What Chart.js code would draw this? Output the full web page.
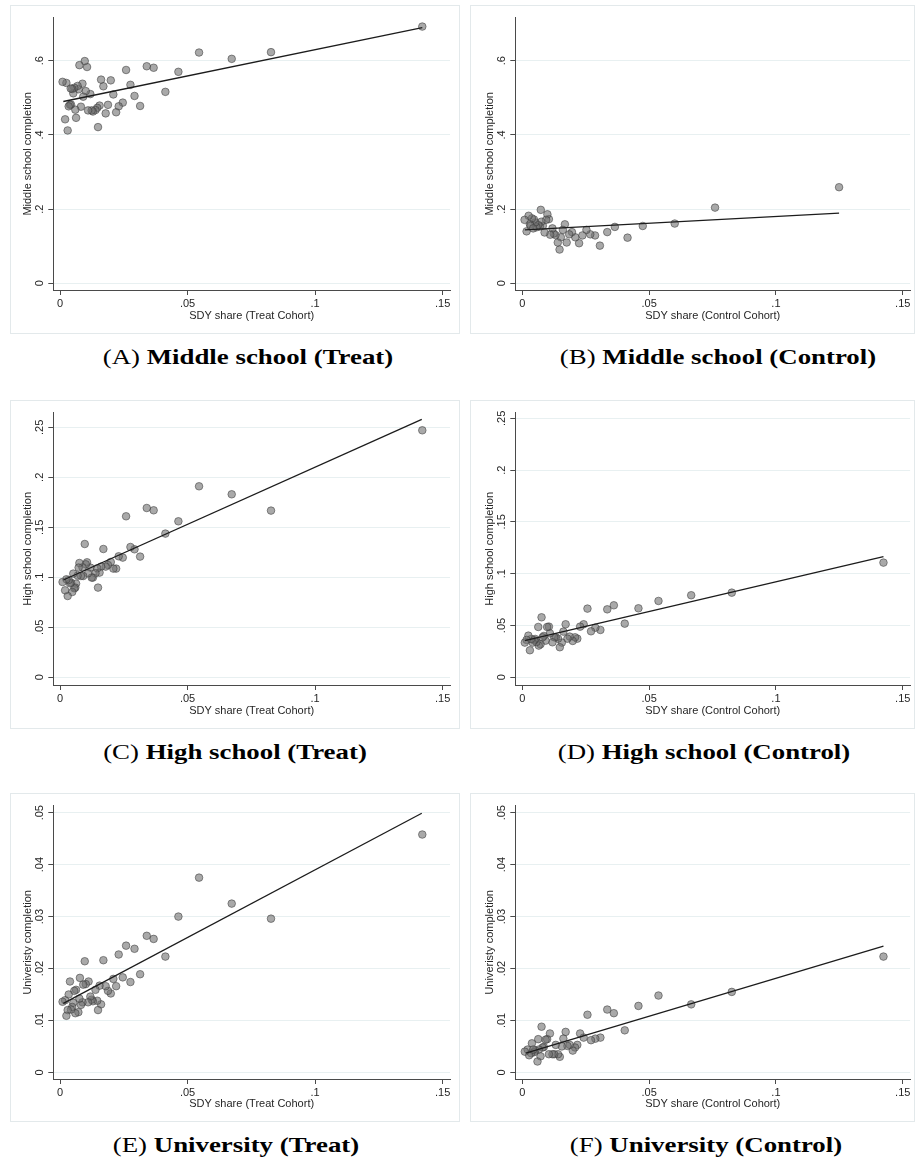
<!DOCTYPE html>
<html>
<head>
<meta charset="utf-8">
<script src="https://cdn.jsdelivr.net/npm/chart.js@4.4.1/dist/chart.umd.min.js"></script>
<style>
  html, body { margin: 0; padding: 0; background: #fff; }
  body { position: relative; width: 915px; height: 1163px; overflow: hidden; }
  .frame { position: absolute; border: 1px solid #e3e9eb; box-sizing: border-box; }
  canvas.plot { position: absolute; }
  .cap { position: absolute; font-family: "Liberation Serif", "DejaVu Serif", serif; font-size: 22px;
         line-height: 24px; color: #000; white-space: nowrap; transform: translateX(-50%) scaleX(1.22); }
  .cap b { font-weight: bold; }
</style>
</head>
<body>
<script>
// Shared axis ticks
const xTickValues = [0, 0.05, 0.1, 0.15];
const xTickLabels = ['0', '.05', '.1', '.15'];
const yTicksMiddle = [0, 0.2, 0.4, 0.6];
const yLabelsMiddle = ['0', '.2', '.4', '.6'];
const yTicksHigh = [0, 0.05, 0.1, 0.15, 0.2, 0.25];
const yLabelsHigh = ['0', '.05', '.1', '.15', '.2', '.25'];
const yTicksUni = [0, 0.01, 0.02, 0.03, 0.04, 0.05];
const yLabelsUni = ['0', '.01', '.02', '.03', '.04', '.05'];

// (A) Middle school, treat cohort
const xA = [0.142,0.0827,0.0673,0.0545,0.0464,0.0413,0.0367,0.034,0.0314,0.0292,0.0276,0.0259,0.0246,0.023,0.022,0.0209,0.0199,0.0188,0.0179,0.017,0.0161,0.0155,0.0149,0.0146,0.0139,0.0129,0.0124,0.0119,0.011,0.0106,0.0101,0.0097,0.0091,0.0088,0.0082,0.0076,0.0073,0.0069,0.0063,0.006,0.0056,0.0052,0.0048,0.0043,0.0039,0.0034,0.0042,0.003,0.0025,0.002,0.001];
const yA = [0.692,0.623,0.605,0.622,0.570,0.516,0.581,0.585,0.478,0.505,0.535,0.575,0.487,0.477,0.461,0.509,0.547,0.481,0.458,0.531,0.549,0.479,0.421,0.473,0.467,0.463,0.466,0.510,0.466,0.583,0.518,0.599,0.503,0.538,0.476,0.588,0.523,0.532,0.446,0.468,0.527,0.512,0.524,0.482,0.481,0.477,0.525,0.412,0.540,0.442,0.543];
const fitXA = [0.0013, 0.142];
const fitYA = [0.490, 0.689];

// (B) Middle school, control cohort
const xB = [0.1249,0.076,0.0601,0.0475,0.0415,0.0365,0.0335,0.0306,0.0287,0.0268,0.0253,0.0237,0.0224,0.0209,0.0196,0.0185,0.0175,0.0168,0.016,0.0152,0.0147,0.014,0.0131,0.0124,0.0119,0.011,0.0105,0.0099,0.0094,0.0088,0.0081,0.0073,0.0075,0.0069,0.0063,0.0056,0.0051,0.0046,0.0038,0.003,0.0025,0.0017,0.0009,0.0033,0.0043];
const yB = [0.259,0.204,0.161,0.1545,0.123,0.152,0.138,0.1015,0.129,0.132,0.144,0.129,0.108,0.124,0.138,0.132,0.110,0.159,0.144,0.124,0.091,0.110,0.130,0.134,0.148,0.131,0.173,0.186,0.171,0.137,0.155,0.198,0.166,0.153,0.157,0.151,0.164,0.172,0.175,0.159,0.182,0.140,0.171,0.155,0.148];
const fitXB = [0.001, 0.1249];
const fitYB = [0.144, 0.189];

// (C) High school, treat cohort
const xC = [0.142,0.0827,0.0673,0.0545,0.0464,0.0413,0.0367,0.034,0.0314,0.0292,0.0276,0.0259,0.0246,0.023,0.022,0.0209,0.0199,0.0188,0.0179,0.017,0.0161,0.0155,0.0149,0.0146,0.0139,0.0129,0.0124,0.0119,0.011,0.0106,0.0101,0.0097,0.0091,0.0088,0.0082,0.0076,0.0073,0.0069,0.0063,0.006,0.0056,0.0052,0.0048,0.0043,0.0039,0.0034,0.003,0.0025,0.002,0.001];
const yC = [0.247,0.1667,0.183,0.191,0.156,0.1437,0.167,0.1693,0.1207,0.128,0.1303,0.161,0.1197,0.121,0.1087,0.1087,0.1153,0.1123,0.1107,0.1283,0.1107,0.1047,0.0897,0.109,0.104,0.0997,0.0997,0.1097,0.104,0.115,0.113,0.1333,0.1013,0.11,0.1013,0.1143,0.1097,0.1017,0.0937,0.0897,0.089,0.1037,0.0853,0.0947,0.094,0.0973,0.0813,0.098,0.087,0.0953];
const fitXC = [0.0013, 0.1418];
const fitYC = [0.0973, 0.258];

// (D) High school, control cohort
const xD = [0.1424,0.0826,0.0666,0.0537,0.0458,0.0404,0.0361,0.0335,0.0308,0.0288,0.0271,0.0257,0.0242,0.0228,0.0217,0.0208,0.0199,0.0187,0.0178,0.0171,0.0162,0.0156,0.0148,0.0141,0.0132,0.0126,0.0119,0.0109,0.0105,0.0098,0.0092,0.0085,0.008,0.0076,0.0072,0.0065,0.0063,0.0056,0.0051,0.0047,0.0041,0.0035,0.003,0.0024,0.0017,0.001];
const yD = [0.1107,0.0817,0.0792,0.0737,0.0666,0.0518,0.0695,0.0656,0.0457,0.0479,0.0444,0.0663,0.0512,0.0489,0.0373,0.0386,0.0351,0.0393,0.0373,0.0512,0.0441,0.0335,0.029,0.0373,0.0386,0.0386,0.0338,0.0425,0.0489,0.0486,0.0354,0.0399,0.0386,0.0579,0.0319,0.0306,0.0486,0.0341,0.037,0.0357,0.0335,0.037,0.0261,0.0402,0.0361,0.0335];
const fitXD = [0.001, 0.1424];
const fitYD = [0.0354, 0.1165];

// (E) University, treat cohort
const xE = [0.142,0.0827,0.0673,0.0545,0.0464,0.0413,0.0367,0.034,0.0314,0.0292,0.0276,0.0259,0.0246,0.023,0.022,0.0209,0.0199,0.0188,0.0179,0.017,0.0161,0.0155,0.0149,0.0146,0.0139,0.0129,0.0124,0.0119,0.011,0.0112,0.0101,0.0097,0.0091,0.0088,0.0082,0.0078,0.0076,0.0072,0.0063,0.006,0.0056,0.0052,0.0048,0.0043,0.0039,0.0034,0.003,0.0025,0.002,0.001];
const yE = [0.0458,0.0296,0.0325,0.0375,0.0300,0.0223,0.0257,0.0263,0.0189,0.0238,0.0174,0.0244,0.0183,0.0227,0.0166,0.018,0.0152,0.0157,0.0166,0.0216,0.0131,0.0167,0.012,0.0138,0.0159,0.0137,0.014,0.0146,0.0135,0.0175,0.017,0.0214,0.0169,0.0135,0.013,0.0182,0.0142,0.0116,0.0159,0.0114,0.0157,0.0134,0.0126,0.0121,0.0175,0.015,0.012,0.0109,0.0139,0.0136];
const fitXE = [0.0013, 0.1418];
const fitYE = [0.0133, 0.0499];

// (F) University, control cohort
const xF = [0.1424,0.0826,0.0666,0.0537,0.0458,0.0404,0.0361,0.0335,0.0308,0.0288,0.0271,0.0257,0.0242,0.0228,0.0217,0.0208,0.0199,0.0187,0.0178,0.0171,0.0162,0.0156,0.0148,0.0141,0.0132,0.0126,0.0119,0.0109,0.0105,0.0098,0.0092,0.0085,0.008,0.0076,0.0072,0.0065,0.0063,0.006,0.0051,0.0047,0.0038,0.0035,0.0027,0.0021,0.001,0.0043];
const yF = [0.0223,0.0155,0.0131,0.0148,0.0128,0.0081,0.0114,0.0121,0.0067,0.0065,0.0062,0.0111,0.0067,0.0075,0.0053,0.0048,0.0042,0.0053,0.0051,0.0078,0.0065,0.005,0.003,0.0035,0.0053,0.0035,0.0035,0.0075,0.0035,0.0064,0.0063,0.0049,0.0048,0.0088,0.0031,0.0044,0.0064,0.0021,0.0042,0.0039,0.0056,0.0037,0.0033,0.0044,0.004,0.0044];
const fitXF = [0.0014, 0.1424];
const fitYF = [0.0037, 0.0243];

const TEXT = '#262626';
const AXIS = '#4a4a4a';
const GRID = '#e8f0f1';
const SANS = '"Liberation Sans", Arial, sans-serif';

// Rotated y tick labels (Stata style: reading bottom-to-top)
const rotatedYTicks = {
  id: 'rotatedYTicks',
  afterDraw(chart, args, opts) {
    const s = chart.scales.y, ctx = chart.ctx;
    ctx.save();
    ctx.font = '11px ' + SANS;
    ctx.fillStyle = TEXT;
    ctx.textAlign = 'center';
    ctx.textBaseline = 'middle';
    opts.values.forEach((v, i) => {
      ctx.save();
      ctx.translate(s.right - opts.gap, s.getPixelForValue(v));
      ctx.rotate(-Math.PI / 2);
      ctx.fillText(opts.labels[i], 0, 0);
      ctx.restore();
    });
    ctx.restore();
  }
};

function panel(p) {
  const frame = document.createElement('div');
  frame.className = 'frame';
  frame.style.cssText = `left:${p.box.l}px;top:${p.box.t}px;width:${p.box.w}px;height:${p.box.h}px`;
  document.body.appendChild(frame);

  const cv = document.createElement('canvas');
  cv.className = 'plot';
  cv.width = p.box.w; cv.height = p.box.h;
  cv.style.cssText = `left:${p.box.l}px;top:${p.box.t}px;width:${p.box.w}px;height:${p.box.h}px`;
  document.body.appendChild(cv);

  const aL = p.area.l - p.box.l, aT = p.area.t - p.box.t;
  const aR = p.area.r - p.box.l, aB = p.area.b - p.box.t;

  new Chart(cv, {
    type: 'scatter',
    data: {
      datasets: [
        {
          type: 'line',
          data: p.fitX.map((x, i) => ({ x, y: p.fitY[i] })),
          borderColor: '#1c1c1c', borderWidth: 1.3, pointRadius: 0, fill: false, tension: 0
        },
        {
          data: p.x.map((x, i) => ({ x, y: p.y[i] })),
          pointRadius: 3.8,
          backgroundColor: 'rgba(112,112,112,0.6)',
          borderColor: 'rgba(55,55,55,0.6)',
          borderWidth: 0.9
        }
      ]
    },
    options: {
      responsive: false, animation: false, devicePixelRatio: 1,
      layout: { padding: { left: 0, top: aT, right: p.box.w - aR, bottom: 0 } },
      plugins: {
        legend: { display: false }, tooltip: { enabled: false },
        rotatedYTicks: { values: p.yTicks, labels: p.yLabels, gap: 13.3 }
      },
      scales: {
        x: {
          type: 'linear', min: p.xMin, max: p.xMax,
          afterBuildTicks: s => { s.ticks = xTickValues.map(v => ({ value: v })); },
          afterFit: s => { s.height = p.box.h - aB; },
          border: { display: true, color: AXIS, width: 1 },
          grid: { drawOnChartArea: false, drawTicks: true, tickLength: 5, tickColor: AXIS },
          ticks: {
            autoSkip: false, maxRotation: 0, minRotation: 0, padding: 2,
            color: TEXT, font: { family: SANS, size: 11 },
            callback: v => xTickLabels[xTickValues.indexOf(v)]
          },
          title: {
            display: true, text: p.xTitle, color: TEXT,
            font: { family: SANS, size: 11 }, padding: { top: 0, bottom: 11.4 }
          }
        },
        y: {
          type: 'linear', min: p.yMin, max: p.yMax,
          afterBuildTicks: s => { s.ticks = p.yTicks.map(v => ({ value: v })); },
          afterFit: s => { s.width = aL; },
          border: { display: true, color: AXIS, width: 1 },
          grid: { drawOnChartArea: true, color: GRID, lineWidth: 1, drawTicks: true, tickLength: 5, tickColor: AXIS },
          ticks: { display: false },
          title: {
            display: true, text: p.yTitle, color: TEXT,
            font: { family: SANS, size: 11 }, padding: { top: p.yTitlePad, bottom: 0 }
          }
        }
      }
    },
    plugins: [rotatedYTicks]
  });
}

function caption(letter, text, cx, cy) {
  const d = document.createElement('div');
  d.className = 'cap';
  d.style.left = cx + 'px';
  d.style.top = (cy - 12) + 'px';
  d.innerHTML = `(${letter}) <b>${text}</b>`;
  document.body.appendChild(d);
}

const LEFT = { box: { l: 10, w: 450 }, aL: 53.3, aR: 450, xMin: -0.00263, xMax: 0.15286, yTitlePad: 11.7 };
const RIGHT = { box: { l: 470, w: 445 }, aL: 515.3, aR: 911.7, xMin: -0.00275, xMax: 0.1529, yTitlePad: 13.4 };
const ROWS = [
  { top: 5, aT: 17.7, aB: 290 },
  { top: 400, aT: 412.7, aB: 685 },
  { top: 793.3, aT: 806, aB: 1079.3 }
];

function spec(col, row, extra) {
  return Object.assign({
    box: { l: col.box.l, t: row.top, w: col.box.w, h: 329 },
    area: { l: col.aL, t: row.aT, r: col.aR, b: row.aB },
    xMin: col.xMin, xMax: col.xMax, yTitlePad: col.yTitlePad
  }, extra);
}

panel(spec(LEFT, ROWS[0], { x: xA, y: yA, fitX: fitXA, fitY: fitYA, yMin: -0.01806, yMax: 0.7159,
  yTicks: yTicksMiddle, yLabels: yLabelsMiddle, yTitle: 'Middle school completion', xTitle: 'SDY share (Treat Cohort)' }));
panel(spec(RIGHT, ROWS[0], { x: xB, y: yB, fitX: fitXB, fitY: fitYB, yMin: -0.01806, yMax: 0.7159,
  yTicks: yTicksMiddle, yLabels: yLabelsMiddle, yTitle: 'Middle school completion', xTitle: 'SDY share (Control Cohort)' }));
panel(spec(LEFT, ROWS[1], { x: xC, y: yC, fitX: fitXC, fitY: fitYC, yMin: -0.0077, yMax: 0.2646,
  yTicks: yTicksHigh, yLabels: yLabelsHigh, yTitle: 'High school completion', xTitle: 'SDY share (Treat Cohort)' }));
panel(spec(RIGHT, ROWS[1], { x: xD, y: yD, fitX: fitXD, fitY: fitYD, yMin: -0.00743, yMax: 0.2554,
  yTicks: yTicksHigh, yLabels: yLabelsHigh, yTitle: 'High school completion', xTitle: 'SDY share (Control Cohort)' }));
panel(spec(LEFT, ROWS[2], { x: xE, y: yE, fitX: fitXE, fitY: fitYE, yMin: -0.00127, yMax: 0.05135,
  yTicks: yTicksUni, yLabels: yLabelsUni, yTitle: 'Univeristy completion', xTitle: 'SDY share (Treat Cohort)' }));
panel(spec(RIGHT, ROWS[2], { x: xF, y: yF, fitX: fitXF, fitY: fitYF, yMin: -0.00127, yMax: 0.05135,
  yTicks: yTicksUni, yLabels: yLabelsUni, yTitle: 'Univeristy completion', xTitle: 'SDY share (Control Cohort)' }));

caption('A', 'Middle school (Treat)', 248, 357);
caption('B', 'Middle school (Control)', 718, 357);
caption('C', 'High school (Treat)', 235, 752);
caption('D', 'High school (Control)', 704, 752);
caption('E', 'University (Treat)', 236, 1145);
caption('F', 'University (Control)', 706, 1145);
</script>
</body>
</html>
